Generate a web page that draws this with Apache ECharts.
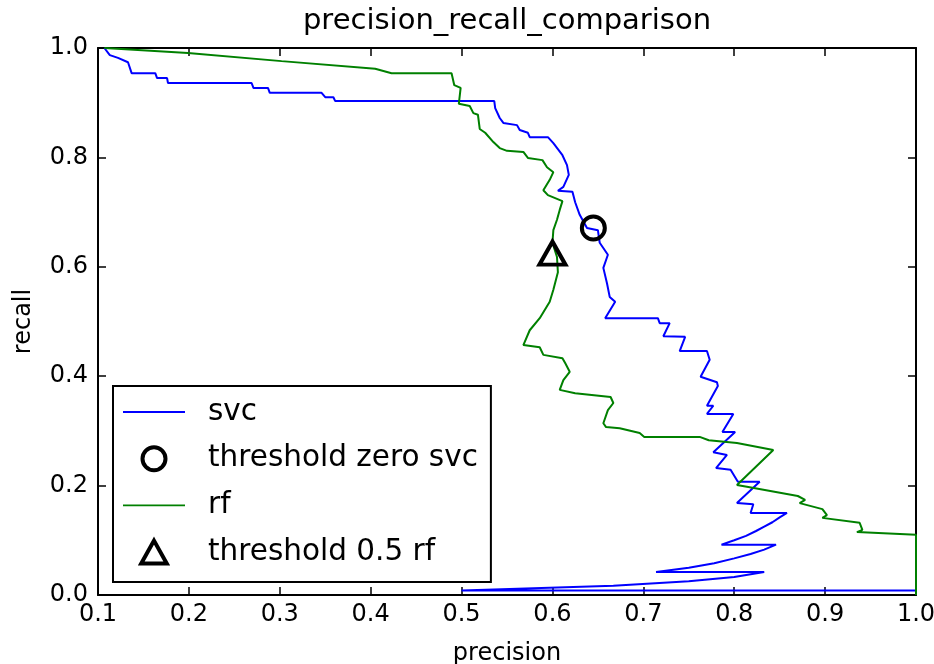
<!DOCTYPE html>
<html><head><meta charset="utf-8">
<script src="https://cdn.jsdelivr.net/npm/echarts@6/dist/echarts.min.js"></script>
<style>html,body{margin:0;padding:0;background:#fff}#c{width:934px;height:664px}</style>
</head><body><div id="c"></div><script>
// ---- data ----
const svcPrecision = [0.107,0.113,0.122,0.133,0.137,0.163,0.165,0.176,0.177,0.269,0.271,0.287,0.289,0.346,0.350,0.359,0.361,0.536,0.537,0.542,0.546,0.561,0.564,0.573,0.575,0.595,0.601,0.611,0.616,0.618,0.612,0.606,0.622,0.625,0.630,0.638,0.650,0.652,0.661,0.656,0.660,0.663,0.669,0.658,0.716,0.718,0.729,0.722,0.746,0.740,0.770,0.773,0.763,0.781,0.782,0.770,0.777,0.770,0.799,0.787,0.801,0.777,0.792,0.780,0.796,0.804,0.828,0.803,0.821,0.818,0.858,
  0.850,0.842,0.833,0.824,0.813,0.800,0.786,0.846,0.833,0.818,0.800,0.778,0.750,0.714,0.833,0.800,0.750,0.667,0.500,1.000,1.000];
const svcRecall = [1.000,0.987,0.982,0.974,0.954,0.954,0.945,0.945,0.936,0.936,0.927,0.927,0.918,0.918,0.910,0.910,0.903,0.903,0.890,0.872,0.863,0.859,0.850,0.845,0.837,0.837,0.826,0.804,0.786,0.768,0.746,0.739,0.737,0.718,0.695,0.671,0.667,0.644,0.622,0.598,0.570,0.545,0.536,0.506,0.506,0.497,0.497,0.473,0.472,0.446,0.446,0.430,0.399,0.389,0.382,0.346,0.346,0.331,0.331,0.298,0.298,0.261,0.256,0.232,0.229,0.207,0.207,0.168,0.166,0.150,0.150,
  0.142,0.133,0.125,0.117,0.108,0.100,0.092,0.092,0.083,0.075,0.067,0.058,0.050,0.042,0.042,0.033,0.025,0.017,0.008,0.008,0.000];
const rfPrecision = [0.107,0.199,0.302,0.405,0.423,0.489,0.492,0.499,0.497,0.509,0.513,0.518,0.520,0.526,0.535,0.542,0.550,0.568,0.573,0.589,0.594,0.601,0.597,0.590,0.595,0.611,0.608,0.605,0.601,0.600,0.605,0.606,0.601,0.597,0.586,0.575,0.568,0.586,0.590,0.611,0.614,0.619,0.612,0.608,0.625,0.664,0.667,0.661,0.656,0.659,0.674,0.696,0.701,0.762,0.772,0.803,0.843,0.803,0.817,0.870,0.878,0.872,0.897,0.902,0.897,0.938,0.941,0.935,1.000,1.000];
const rfRecall = [1.000,0.991,0.976,0.962,0.954,0.954,0.932,0.927,0.898,0.894,0.881,0.878,0.852,0.845,0.828,0.817,0.812,0.810,0.799,0.795,0.782,0.773,0.759,0.740,0.731,0.720,0.704,0.686,0.667,0.644,0.618,0.590,0.558,0.536,0.506,0.484,0.457,0.453,0.439,0.433,0.424,0.408,0.393,0.375,0.369,0.362,0.351,0.338,0.314,0.307,0.305,0.296,0.289,0.289,0.283,0.278,0.265,0.201,0.197,0.181,0.174,0.168,0.157,0.146,0.141,0.132,0.119,0.115,0.110,0.000];
const svcZeroPoint = [0.645, 0.671];
const rfHalfPoint = [0.600, 0.625];
const seriesNames = ['svc', 'threshold zero svc', 'rf', 'threshold 0.5 rf'];
const titleText = 'precision_recall_comparison';
const xName = 'precision';
const yName = 'recall';

// ---- rendering ----
const FONT = '"DejaVu Sans", "Liberation Sans", sans-serif';
const zip = (a, b) => a.map((v, i) => [v, b[i]]);
const fmt = v => v.toFixed(1);

const GL = 98, GT = 48, GW = 818, GH = 547;

const mctx = document.createElement('canvas').getContext('2d');
mctx.font = '29px "DejaVu Sans"';
const titleW = mctx.measureText(titleText).width;

const lineIcon = 'path://M0,0H100V3H0Z';
const triIcon = 'path://M10,0L20,18L0,18Z';
const markerStyle = { color: 'rgba(0,0,0,0)', borderColor: '#000', borderWidth: 4, opacity: 1 };

function axisBase(pos, withLabels) {
  return {
    type: 'value', position: pos,
    axisLine: { show: true, onZero: false, lineStyle: { color: '#000', width: 2 } },
    axisTick: { show: true, inside: true, length: 8, lineStyle: { color: '#000', width: 1.5 } },
    axisLabel: { show: withLabels, fontFamily: FONT, fontSize: 24, color: '#000', formatter: fmt,
                 showMinLabel: true, showMaxLabel: true },
    splitLine: { show: false }
  };
}

const chart = echarts.init(document.getElementById('c'), null, { renderer: 'canvas' });
const option = {
  animation: false,
  backgroundColor: '#fff',
  title: {
    text: titleText, left: GL + GW / 2 - titleW / 2, top: 7, padding: 0,
    textStyle: { fontFamily: FONT, fontSize: 29, fontWeight: 'normal', color: '#000' }
  },
  grid: { left: GL, top: GT, width: GW, height: GH, containLabel: false, outerBoundsMode: 'none' },
  xAxis: [
    Object.assign(axisBase('bottom', true), { min: 0.1, max: 1.0, interval: 0.1,
      name: xName, nameLocation: 'middle', nameGap: 47,
      nameTextStyle: { fontFamily: FONT, fontSize: 24, color: '#000' } }),
    Object.assign(axisBase('top', false), { min: 0.1, max: 1.0, interval: 0.1 })
  ],
  yAxis: [
    Object.assign(axisBase('left', true), { min: 0, max: 1, interval: 0.2,
      name: yName, nameLocation: 'middle', nameGap: 62, nameRotate: 90,
      nameTextStyle: { fontFamily: FONT, fontSize: 24, color: '#000' },
      axisLabel: { show: true, fontFamily: FONT, fontSize: 24, color: '#000', formatter: fmt, margin: 10,
                   showMinLabel: true, showMaxLabel: true } }),
    Object.assign(axisBase('right', false), { min: 0, max: 1, interval: 0.2 })
  ],
  legend: {
    show: true, orient: 'vertical', left: 113, top: 386,
    padding: [11, 13, 15, 10], itemGap: 16.7, itemWidth: 62, itemHeight: 23,
    borderColor: '#000', borderWidth: 2, backgroundColor: '#fff', selectedMode: false,
    textStyle: { fontFamily: FONT, fontSize: 29.5, lineHeight: 30, color: '#000', padding: [0, 0, 0, 18] },
    data: [
      { name: seriesNames[0], icon: lineIcon, itemStyle: { color: '#0000ff', borderWidth: 0 } },
      { name: seriesNames[1], icon: 'circle', itemStyle: markerStyle },
      { name: seriesNames[2], icon: lineIcon, itemStyle: { color: '#008000', borderWidth: 0 } },
      { name: seriesNames[3], icon: triIcon, itemStyle: markerStyle }
    ]
  },
  series: [
    { name: seriesNames[0], type: 'line', data: zip(svcPrecision, svcRecall), symbol: 'none', showSymbol: false,
      lineStyle: { color: '#0000ff', width: 2 }, itemStyle: { color: '#0000ff' }, z: 2 },
    { name: seriesNames[1], type: 'scatter', data: [svcZeroPoint], symbol: 'circle', symbolSize: 23,
      itemStyle: markerStyle, z: 3 },
    { name: seriesNames[2], type: 'line', data: zip(rfPrecision, rfRecall), symbol: 'none', showSymbol: false,
      lineStyle: { color: '#008000', width: 2 }, itemStyle: { color: '#008000' }, z: 4 },
    { name: seriesNames[3], type: 'scatter', data: [rfHalfPoint], symbol: triIcon, symbolSize: [26, 23],
      itemStyle: markerStyle, z: 5 }
  ]
};
chart.setOption(option);
</script></body></html>
